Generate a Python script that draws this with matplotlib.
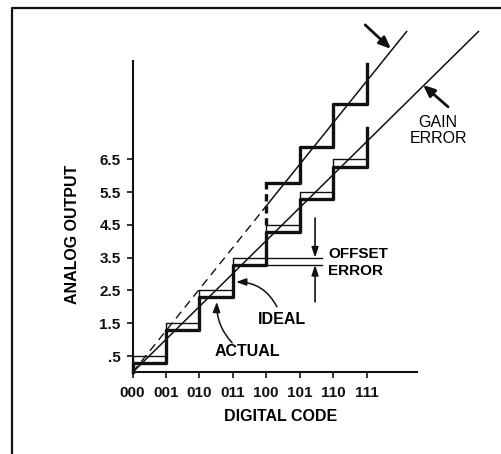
import matplotlib
matplotlib.use('Agg')
import matplotlib.pyplot as plt
from matplotlib.lines import Line2D

plt.rcParams['font.family'] = ['Liberation Sans', 'DejaVu Sans']

# values
codes = [0, 1, 2, 3, 4, 5, 6, 7]
code_labels = ['000', '001', '010', '011', '100', '101', '110', '111']
ideal_levels = [0.5, 1.5, 2.5, 3.5, 4.5, 5.5, 6.5, 7.5]
actual_levels = [0.28, 1.28, 2.3, 3.28, 4.28, 5.28, 6.28, 7.45]
gain_codes = [4, 5, 6, 7]
gain_levels = [5.77, 6.88, 8.2, 9.42]
y_ticks = [0.5, 1.5, 2.5, 3.5, 4.5, 5.5, 6.5]
y_tick_labels = ['.5', '1.5', '2.5', '3.5', '4.5', '5.5', '6.5']
ideal_line_x = [0, 10.35]
ideal_line_y = [0, 10.4]
gain_line_x = [0, 3.9, 8.2]
gain_line_y = [0, 4.95, 10.4]
offset_top = 3.5
offset_bottom = 3.28

ink = '#111111'
thin = 1.0
thick = 2.4

fig = plt.figure(figsize=(5.02, 4.54), dpi=100)
ax = fig.add_axes([0.264, 0.1797, 0.566, 0.686])

# outer frame of the scanned page
fig.add_artist(Line2D([0.0239, 0.0239, 1.0], [0.0, 0.9817, 0.9817], color=ink, lw=1.6))

# ideal staircase (thin) and actual staircase (thick)
ax.step([0] + codes, [0] + ideal_levels, where='post', color=ink, lw=thin, clip_on=False)
ax.step([0] + codes, [0] + actual_levels, where='post', color=ink, lw=thick, clip_on=False)

# gain error staircase
ax.step(gain_codes, gain_levels, where='post', color=ink, lw=thick, clip_on=False)
ax.plot([gain_codes[0], gain_codes[0]], [ideal_levels[4], gain_levels[0]], color=ink,
        lw=thick, ls=(0, (2.2, 1.4)), clip_on=False)

# straight transfer lines
ax.plot(ideal_line_x, ideal_line_y, color=ink, lw=1.1, clip_on=False)
ax.plot(gain_line_x[:2], gain_line_y[:2], color=ink, lw=1.0, ls=(0, (6, 4)), clip_on=False)
ax.plot(gain_line_x[1:], gain_line_y[1:], color=ink, lw=1.1, clip_on=False)

# offset error marks
ax.plot([4.05, 5.66], [offset_top, offset_top], color=ink, lw=thin)
ax.plot([4.05, 5.66], [offset_bottom, offset_bottom], color=ink, lw=thin)
head = dict(arrowstyle='-|>,head_length=0.6,head_width=0.2', color=ink, lw=1.2,
            shrinkA=0, shrinkB=0)
ax.annotate('', xy=(5.46, offset_top), xytext=(5.46, 4.71), arrowprops=head)
ax.annotate('', xy=(5.46, offset_bottom), xytext=(5.46, 2.15), arrowprops=head)
ax.text(5.85, 3.61, 'OFFSET', fontsize=11, fontweight='bold', va='center', ha='left')
ax.text(5.85, 3.09, 'ERROR', fontsize=11, fontweight='bold', va='center', ha='left')

# gain error arrows
big = dict(arrowstyle='-|>,head_length=0.7,head_width=0.3', color=ink, lw=2.0,
           shrinkA=0, shrinkB=0)
ax.annotate('', xy=(7.73, 9.87), xytext=(6.96, 10.6), arrowprops=big, annotation_clip=False)
ax.annotate('', xy=(8.69, 8.77), xytext=(9.44, 8.1), arrowprops=big, annotation_clip=False)
ax.text(9.14, 7.61, 'GAIN', fontsize=11.5, ha='center', va='center', clip_on=False)
ax.text(9.14, 7.15, 'ERROR', fontsize=11.5, ha='center', va='center', clip_on=False)

# ideal / actual labels
curve = dict(arrowstyle='-|>,head_length=0.6,head_width=0.22', color=ink, lw=1.1,
             shrinkA=0, shrinkB=0)
ax.annotate('', xy=(3.1, 2.76), xytext=(4.32, 2.0),
            arrowprops=dict(curve, connectionstyle='arc3,rad=0.3'))
ax.annotate('', xy=(2.52, 2.15), xytext=(2.98, 0.9),
            arrowprops=dict(curve, connectionstyle='arc3,rad=-0.2'))
ax.text(4.47, 1.60, 'IDEAL', fontsize=11.5, fontweight='bold', ha='center', va='center')
ax.text(3.42, 0.63, 'ACTUAL', fontsize=11.5, fontweight='bold', ha='center', va='center')

# axes
ax.set_xlim(0, 8.5)
ax.set_ylim(0, 9.5)
ax.set_facecolor('none')
for side in ['top', 'right']:
    ax.spines[side].set_visible(False)
for side in ['left', 'bottom']:
    ax.spines[side].set_linewidth(1.5)
    ax.spines[side].set_color(ink)
ax.set_xticks(codes)
ax.set_xticklabels(code_labels, fontsize=11, fontweight='bold')
ax.set_yticks(y_ticks)
ax.set_yticklabels(y_tick_labels, fontsize=11, fontweight='bold')
ax.tick_params(axis='x', length=4, width=1.2, pad=6, colors=ink)
ax.tick_params(axis='y', length=4.5, width=1.2, pad=4, colors=ink)
ax.text(0.5225, -0.142, 'DIGITAL CODE', transform=ax.transAxes, fontsize=11.5,
        fontweight='bold', ha='center', va='center')
ax.text(-0.212, 0.443, 'ANALOG OUTPUT', transform=ax.transAxes, fontsize=11.5,
        fontweight='bold', ha='center', va='center', rotation=90)

plt.savefig('out.png', dpi=100)
